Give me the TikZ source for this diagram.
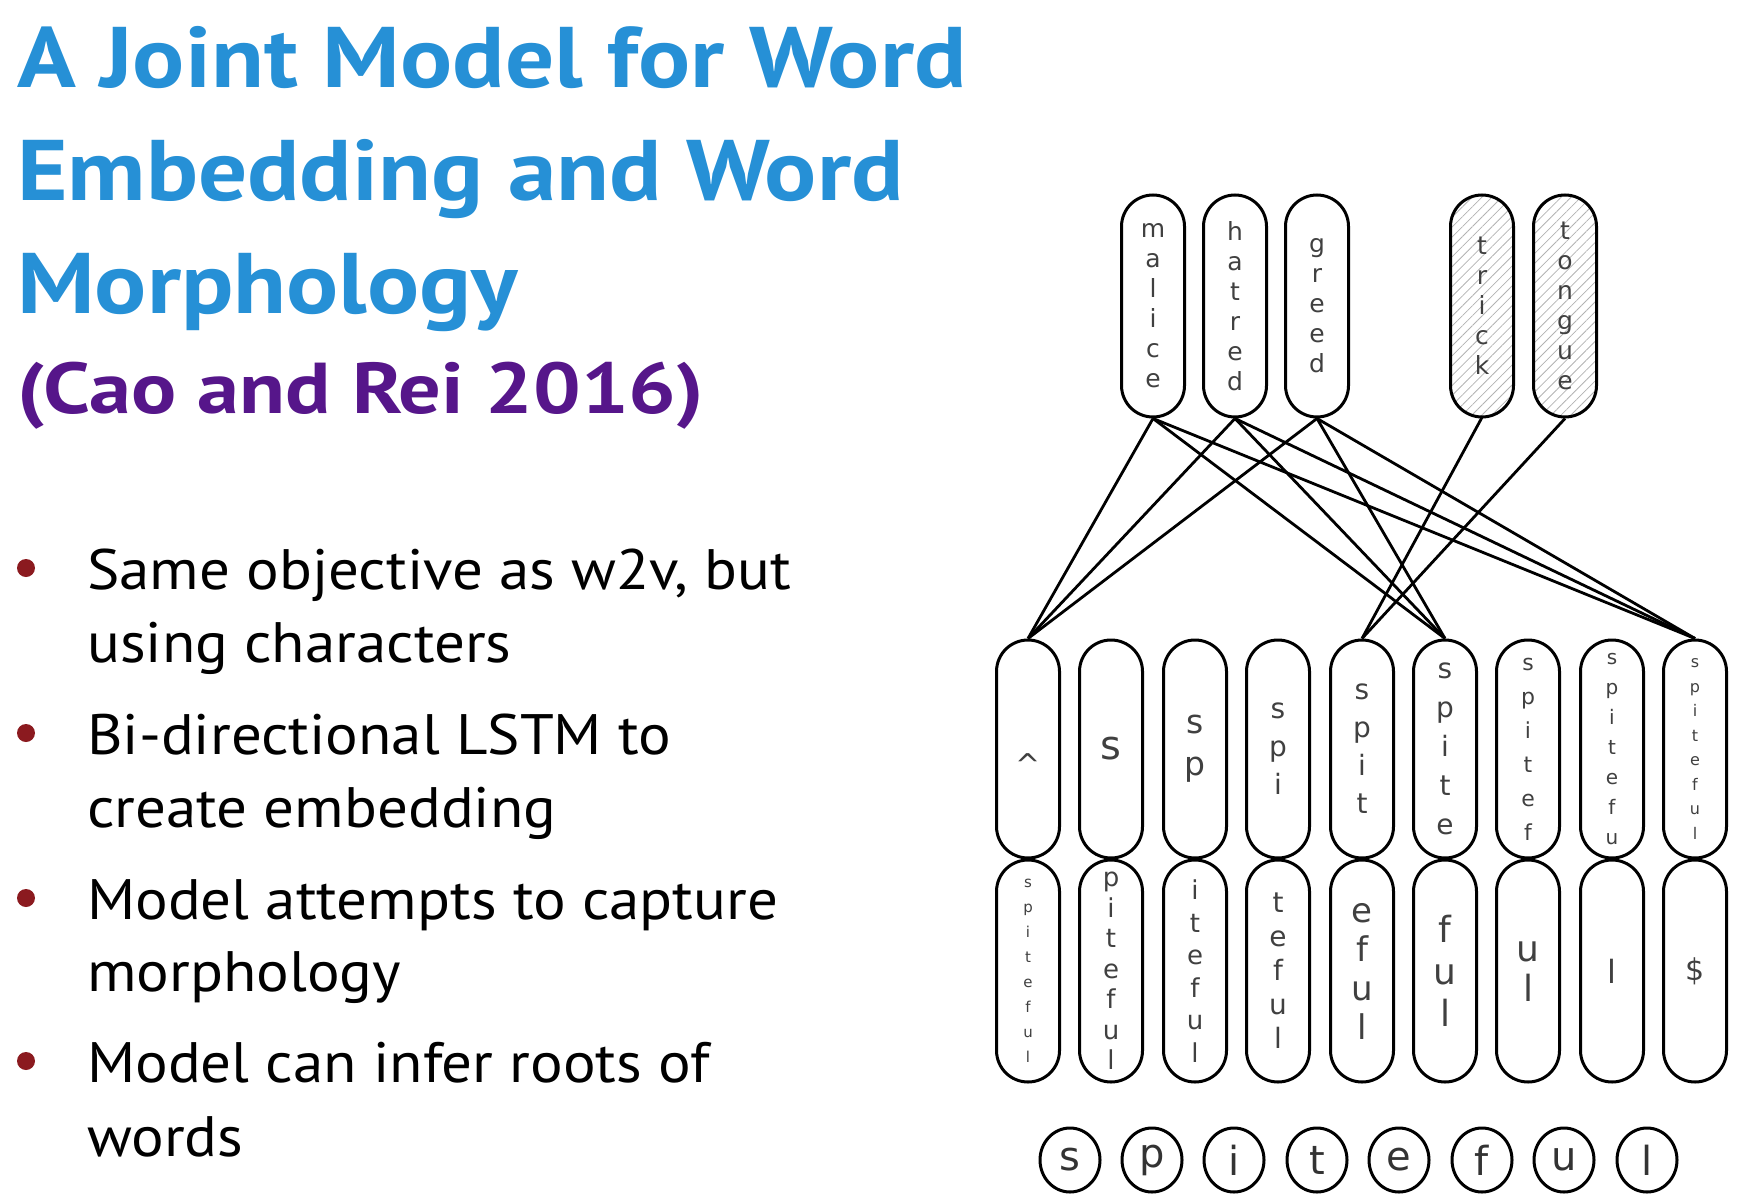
\documentclass[tikz,border=0pt]{standalone}
\usepackage{fontspec}
\usetikzlibrary{patterns.meta,shapes.geometric}
\newfontfamily\ttlfont{PT Sans}[FakeStretch=1.13]
\newfontfamily\subfont{PT Sans}[FakeStretch=1.17]
\newfontfamily\bulfont{PT Sans}[FakeStretch=1.07]
\newfontfamily\dv{DejaVu Sans}
\definecolor{titleblue}{HTML}{2690D6}
\definecolor{subpurple}{HTML}{56168A}
\definecolor{bulletred}{HTML}{8B1A1F}
\newcommand\fs[2]{\fontsize{#1}{#2}\selectfont}
\begin{document}
\begin{tikzpicture}[x=1pt,y=-1pt,
  capsule/.style={draw=black, line width=3pt, rounded corners=31.5pt, minimum width=63pt, inner sep=0pt, align=center, text=black!75},
  topcap/.style={capsule, minimum height=222pt, font=\dv\fs{25}{30}},
  upcap/.style={capsule, minimum height=218pt},
  lowcap/.style={capsule, minimum height=222pt},
  hatch/.style={pattern={Lines[angle=45,distance=7pt,line width=0.8pt]}, pattern color=black!30},
  chr/.style={draw=black, ellipse, line width=3pt, minimum width=60pt, minimum height=64pt, inner sep=0pt, font=\dv\fs{40}{48}, text=black!80},
  link/.style={line width=2.8pt},
  title/.style={anchor=base west, inner sep=0pt, text=titleblue, font=\ttlfont\bfseries\fs{86}{100}},
  subt/.style={anchor=base west, inner sep=0pt, text=subpurple, font=\subfont\bfseries\fs{72}{86}},
  btxt/.style={anchor=base west, inner sep=0pt, text=black, font=\bulfont\fs{57}{70}},
  bdot/.style={circle, fill=bulletred, minimum size=18pt, inner sep=0pt}
]
\useasboundingbox (0,0) rectangle (1748,1204);

% title
\node[title] (t1) at (17,88) {A Joint Model for Word};
\node[title] (t2) at (17,200) {Embedding and Word};
\node[title] (t3) at (17,313) {Morphology};
\node[subt] (t4) at (17,413) {(Cao and Rei 2016)};

% bullets
\node[bdot] (d1) at (26,568) {};
\node[btxt] (b1a) at (87,589) {Same objective as w2v, but};
\node[btxt] (b1b) at (87,662) {using characters};
\node[bdot] (d2) at (26,733) {};
\node[btxt] (b2a) at (87,754) {Bi-directional LSTM to};
\node[btxt] (b2b) at (87,827) {create embedding};
\node[bdot] (d3) at (26,898) {};
\node[btxt] (b3a) at (87,919) {Model attempts to capture};
\node[btxt] (b3b) at (87,991) {morphology};
\node[bdot] (d4) at (26,1061) {};
\node[btxt] (b4a) at (87,1082) {Model can infer roots of};
\node[btxt] (b4b) at (87,1156) {words};

% top context words
\node[topcap] (malice) at (1153,306) {m\\a\\l\\i\\c\\e};
\node[topcap] (hatred) at (1235,306) {h\\a\\t\\r\\e\\d};
\node[topcap] (greed) at (1317,306) {g\\r\\e\\e\\d};
\node[topcap, hatch] (trick) at (1482,306) {t\\r\\i\\c\\k};
\node[topcap, hatch] (tongue) at (1565,306) {t\\o\\n\\g\\u\\e};

% forward states
\node[upcap, align=left, text height=52pt, text depth=0pt, font=\dv\fs{30}{36}] (u1) at (1028,749) {\textasciicircum};
\node[upcap, font=\dv\fs{40}{48}] (u2) at (1111,749) {s};
\node[upcap, font=\dv\fs{33}{42}] (u3) at (1195,749) {s\\p};
\node[upcap, font=\dv\fs{28}{38}] (u4) at (1278,749) {s\\p\\i};
\node[upcap, font=\dv\fs{28}{38}] (u5) at (1362,749) {s\\p\\i\\t};
\node[upcap, font=\dv\fs{28}{39}] (u6) at (1445,749) {s\\p\\i\\t\\e};
\node[upcap, font=\dv\fs{22}{34}] (u7) at (1528,749) {s\\p\\i\\t\\e\\f};
\node[upcap, font=\dv\fs{20}{30}] (u8) at (1612,749) {s\\p\\i\\t\\e\\f\\u};
\node[upcap, font=\dv\fs{16}{24.5}] (u9) at (1695,749) {s\\p\\i\\t\\e\\f\\u\\l};

% backward states
\node[lowcap, font=\dv\fs{15}{25}] (l1) at (1028,971) {s\\p\\i\\t\\e\\f\\u\\l};
\node[lowcap, font=\dv\fs{26}{30.5}] (l2) at (1111,971) {p\\i\\t\\e\\f\\u\\l};
\node[lowcap, font=\dv\fs{26}{32.5}] (l3) at (1195,971) {i\\t\\e\\f\\u\\l};
\node[lowcap, font=\dv\fs{28}{34}] (l4) at (1278,971) {t\\e\\f\\u\\l};
\node[lowcap, font=\dv\fs{34}{39}] (l5) at (1362,971) {e\\f\\u\\l};
\node[lowcap, font=\dv\fs{36}{42}] (l6) at (1445,971) {f\\u\\l};
\node[lowcap, font=\dv\fs{36}{40}] (l7) at (1528,971) {u\\l};
\node[lowcap, font=\dv\fs{32}{38}] (l8) at (1612,971) {l};
\node[lowcap, font=\dv\fs{30}{36}] (l9) at (1695,971) {\$};

% characters
\node[chr] (c1) at (1070,1160) {s};
\node[chr] (c2) at (1152,1160) {p};
\node[chr] (c3) at (1234,1160) {i};
\node[chr] (c4) at (1317,1160) {t};
\node[chr] (c5) at (1399,1160) {e};
\node[chr] (c6) at (1482,1160) {f};
\node[chr] (c7) at (1564,1160) {u};
\node[chr] (c8) at (1647,1160) {l};

% connections
\foreach \w in {malice,hatred,greed}{
  \foreach \u in {u1,u6,u9}{
    \draw[link] (\w.south) -- (\u.north);
  }
}
\draw[link] (trick.south) -- (u5.north);
\draw[link] (tongue.south) -- (u5.north);
\end{tikzpicture}
\end{document}
